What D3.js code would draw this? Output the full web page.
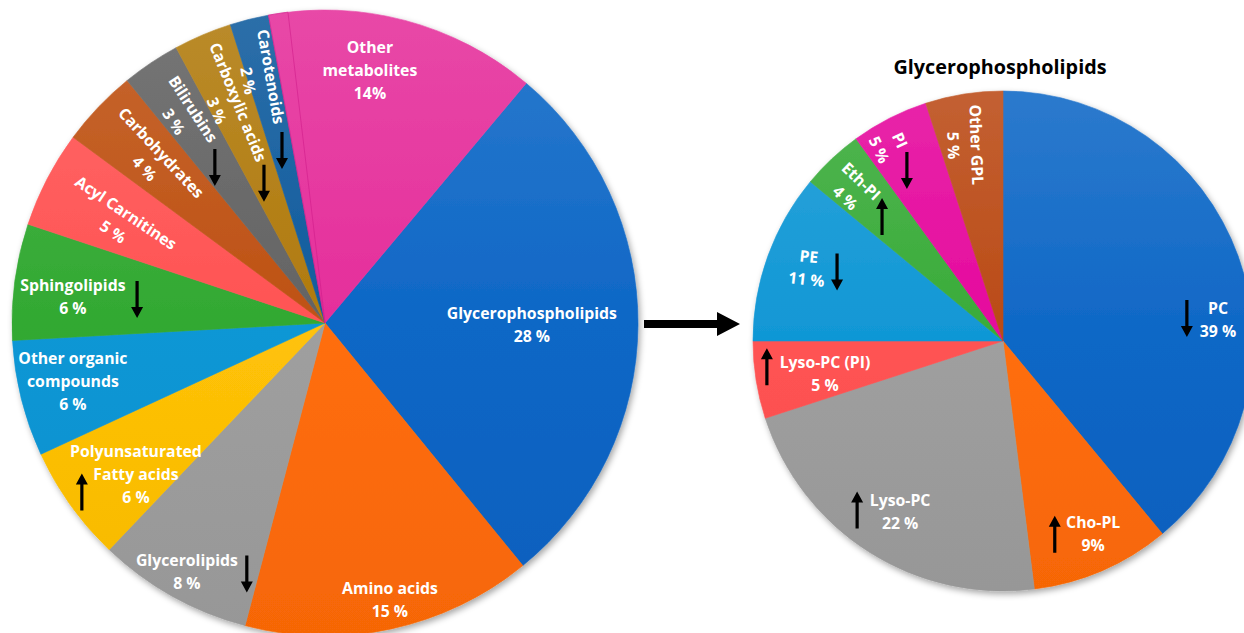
<!DOCTYPE html>
<html>
<head>
<meta charset="utf-8">
<script src="https://cdn.jsdelivr.net/npm/d3@7"></script>
<style>
  body { margin: 0; background: #fff; }
  svg { display: block; font-family: "Open Sans", Lato, sans-serif; }
</style>
</head>
<body>
<svg id="chart" width="1244" height="633"></svg>
<script>
// ---- data: all metabolites (left pie) ----
const allNames = ["Glycerophospholipids", "Amino acids", "Glycerolipids", "Polyunsaturated Fatty acids",
  "Other organic compounds", "Sphingolipids", "Acyl Carnitines", "Carbohydrates", "Bilirubins",
  "Carboxylic acids", "Carotenoids", "Other metabolites"];
const allValues = [28, 15, 8, 6, 6, 6, 5, 4, 3, 3, 2, 14];
const allLabels = [["Glycerophospholipids", "28 %"], ["Amino acids", "15 %"], ["Glycerolipids", "8 %"],
  ["Polyunsaturated", "Fatty acids", "6 %"], ["Other organic", "compounds", "6 %"], ["Sphingolipids", "6 %"],
  ["Acyl Carnitines", "5 %"], ["Carbohydrates", "4 %"], ["Bilirubins", "3 %"], ["Carboxylic acids", "3 %"],
  ["Carotenoids", "2 %"], ["Other", "metabolites", "14%"]];
const allTrend = [null, null, "down", "up", null, "down", null, null, "down", "down", "down", null];
const allColors = ["#0762c4", "#ff6a06", "#9c9c9c", "#ffc000", "#0994d4", "#2ca62c", "#ff4e4e",
  "#bc4c0c", "#5e5e5e", "#ae7606", "#08569a", "#e42898"];

// ---- data: glycerophospholipids (right pie) ----
const gplNames = ["PC", "Cho-PL", "Lyso-PC", "Lyso-PC (PI)", "PE", "Eth-PI", "PI", "Other GPL"];
const gplValues = [39, 9, 22, 5, 11, 4, 5, 5];
const gplLabels = [["PC", "39 %"], ["Cho-PL", "9%"], ["Lyso-PC", "22 %"], ["Lyso-PC (PI)", "5 %"],
  ["PE", "11 %"], ["Eth-PI", "4 %"], ["PI", "5 %"], ["Other GPL", "5 %"]];
const gplTrend = ["down", "up", "up", "up", "down", "up", "down", null];
const gplColors = ["#0762c4", "#ff6a06", "#9c9c9c", "#ff4e4e", "#0994d4", "#32a832", "#e4009a", "#b8440e"];

// ---- layout ----
const deg = Math.PI / 180;
const svg = d3.select("#chart");
const defs = svg.append("defs");

const shadow = defs.append("filter").attr("id", "shadow")
  .attr("x", "-10%").attr("y", "-10%").attr("width", "125%").attr("height", "125%");
shadow.append("feDropShadow").attr("dx", 2).attr("dy", 3).attr("stdDeviation", 3)
  .attr("flood-color", "#000").attr("flood-opacity", 0.35);

// label / arrow placement: polar angle (deg, clockwise from top), radius fraction, text rotation
const allLabelPos = [
  { a: 90.5, k: 0.661, rot: 0 }, { a: 166.8, k: 0.908, rot: 0 }, { a: 209, k: 0.91, rot: 0 },
  { a: 231.3, k: 0.774, rot: 0 }, { a: 256.9, k: 0.827, rot: 0 }, { a: 276, k: 0.81, rot: 0 },
  { a: 296.1, k: 0.731, rot: 34 }, { a: 313.3, k: 0.756, rot: 47 }, { a: 325.7, k: 0.803, rot: 57 },
  { a: 335.7, k: 0.759, rot: 68 }, { a: 345, k: 0.808, rot: 80 }, { a: 10.1, k: 0.819, rot: 0 }
];
const allArrowPos = [null, null, { a: 197.3, k: 0.84 }, { a: 235.2, k: 0.946 }, null, { a: 277.1, k: 0.605 },
  null, null, { a: 324.7, k: 0.609 }, { a: 336.4, k: 0.487 }, { a: 346, k: 0.568 }, null];

const gplLabelPos = [
  { a: 84.5, k: 0.864, rot: 0 }, { a: 154.9, k: 0.85, rot: 0 }, { a: 211.1, k: 0.797, rot: 0 },
  { a: 259.6, k: 0.724, rot: 0 }, { a: 290.5, k: 0.834, rot: 6 }, { a: 315.3, k: 0.852, rot: 44 },
  { a: 329.9, k: 0.906, rot: 65 }, { a: 349, k: 0.798, rot: 88 }
];
const gplArrowPos = [{ a: 83, k: 0.741 }, { a: 165, k: 0.8 }, { a: 220.8, k: 0.893 }, { a: 263.8, k: 0.95 },
  { a: 292.6, k: 0.719 }, { a: 315.8, k: 0.694 }, { a: 330.6, k: 0.783 }, null];

function smallArrow(g, x, y, dir) {
  // vertical arrow, 37px long, centred at x,y
  const L = 37, hl = 11, hw = 6, sw = 1.6;
  const s = dir === "up" ? -1 : 1;
  const tip = y + s * L / 2, base = y - s * L / 2, neck = tip - s * hl;
  const pts = [[x - sw, base], [x + sw, base], [x + sw, neck], [x + hw, neck], [x, tip], [x - hw, neck], [x - sw, neck]];
  g.append("path").attr("d", d3.line()(pts) + "Z").attr("fill", "#000");
}

function drawPie(cfg) {
  const { id, cx, cy, r, values, colors, labels, labelPos, arrowPos, trend, start } = cfg;
  const g = svg.append("g").attr("transform", `translate(${cx},${cy})`);

  colors.forEach((c, i) => {
    const grad = defs.append("linearGradient").attr("id", `${id}-g${i}`)
      .attr("gradientUnits", "userSpaceOnUse").attr("x1", 0).attr("x2", 0).attr("y1", -r).attr("y2", r);
    grad.append("stop").attr("offset", 0).attr("stop-color", d3.interpolateRgb(c, "#fff")(0.15));
    grad.append("stop").attr("offset", 0.5).attr("stop-color", d3.interpolateRgb(c, "#fff")(0.03));
    grad.append("stop").attr("offset", 1).attr("stop-color", d3.color(c).darker(0.1));
  });

  const pie = d3.pie().value(d => d).sort(null).startAngle(start * deg).endAngle(start * deg + 2 * Math.PI);
  const arcs = pie(values);
  const arc = d3.arc().innerRadius(0).outerRadius(r);

  g.append("g").attr("filter", "url(#shadow)")
    .selectAll("path").data(arcs).join("path")
    .attr("d", arc)
    .attr("fill", (d, i) => `url(#${id}-g${i})`)
    .attr("stroke", (d, i) => `url(#${id}-g${i})`).attr("stroke-width", 0.6);

  const polar = (a, k) => d3.arc().innerRadius(k * r).outerRadius(k * r)
    .centroid({ startAngle: a * deg, endAngle: a * deg });

  // labels
  labels.forEach((lines, i) => {
    const p = labelPos[i];
    const [x, y] = polar(p.a, p.k);
    const lh = 23, n = lines.length;
    const t = g.append("text")
      .attr("transform", `translate(${x},${y}) rotate(${p.rot})`)
      .attr("text-anchor", "middle").attr("fill", "#fff")
      .attr("font-weight", 700).attr("font-size", 15.8);
    lines.forEach((s, j) => {
      t.append("tspan").attr("x", 0).attr("y", (j - (n - 1) / 2) * lh + 5.6).text(s);
    });
  });

  // trend arrows
  arrowPos.forEach((p, i) => {
    if (!p || !trend[i]) return;
    const [x, y] = polar(p.a, p.k);
    smallArrow(g, x, y, trend[i]);
  });
  return arcs;
}

const left = { cx: 325, cy: 323, r: 313 };
const right = { cx: 1003, cy: 341, r: 250 };

const leftArcs = drawPie({
  id: "all", ...left, values: allValues, colors: allColors, labels: allLabels,
  labelPos: allLabelPos, arrowPos: allArrowPos, trend: allTrend, start: 40
});

// thin sliver at the start of "Other metabolites"
const om = leftArcs[leftArcs.length - 1];
svg.append("path")
  .attr("transform", `translate(${left.cx},${left.cy})`)
  .attr("d", d3.arc().innerRadius(0).outerRadius(left.r)({ startAngle: om.startAngle, endAngle: om.startAngle + (om.endAngle - om.startAngle) / 14 }))
  .attr("fill", "none").attr("stroke", "#d01c8a").attr("stroke-width", 1).attr("stroke-opacity", 0.6);

drawPie({
  id: "gpl", ...right, values: gplValues, colors: gplColors, labels: gplLabels,
  labelPos: gplLabelPos, arrowPos: gplArrowPos, trend: gplTrend, start: 0
});

// title of the right pie
svg.append("text")
  .attr("x", right.cx - 3).attr("y", 74)
  .attr("text-anchor", "middle").attr("font-weight", 700).attr("font-size", 19.8).attr("fill", "#000")
  .text("Glycerophospholipids");

// big arrow linking the two pies
const ax0 = left.cx + left.r + 6, ax1 = right.cx - right.r - 13, ay = 324;
const bigArrow = [[ax0, ay - 4], [ax1 - 23, ay - 4], [ax1 - 23, ay - 12], [ax1, ay],
  [ax1 - 23, ay + 12], [ax1 - 23, ay + 4], [ax0, ay + 4]];
svg.append("path").attr("d", d3.line()(bigArrow) + "Z").attr("fill", "#000");
</script>
</body>
</html>
